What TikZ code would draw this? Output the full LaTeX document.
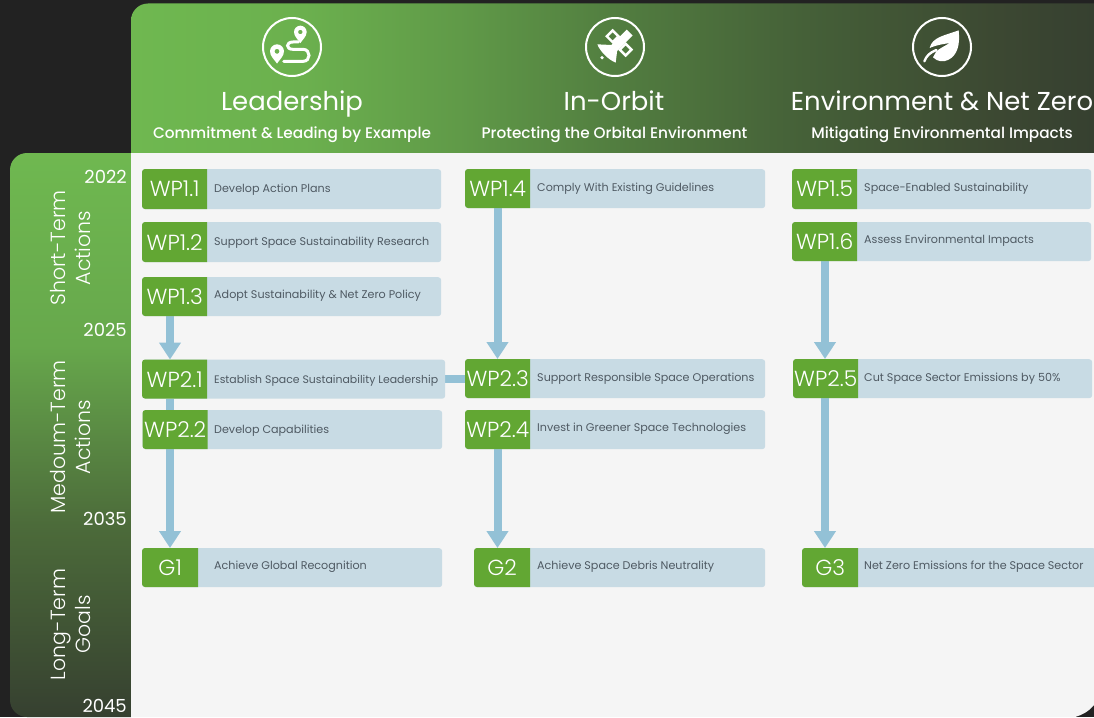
\documentclass[tikz,border=0pt]{standalone}
\usepackage{fontspec}
\setmainfont{Poppins}
\newfontfamily\poplight{Poppins Light}
\newfontfamily\popmed{Poppins Medium}
\usetikzlibrary{arrows.meta,calc}
\definecolor{pagebg}{HTML}{222222}
\definecolor{panelbg}{HTML}{F5F5F5}
\definecolor{tagg}{HTML}{62A733}
\definecolor{bodyb}{HTML}{C8DBE4}
\definecolor{arrowb}{HTML}{93C1D6}
\definecolor{labelc}{HTML}{4F5A63}
\definecolor{ga}{HTML}{6FB850}
\definecolor{gb}{HTML}{6BB04E}
\definecolor{gc}{HTML}{609A48}
\definecolor{gd}{HTML}{527E40}
\definecolor{ge}{HTML}{456038}
\definecolor{gf}{HTML}{3C4832}
\definecolor{gg}{HTML}{364030}
\definecolor{gh}{HTML}{4C6B3A}
\definecolor{gi}{HTML}{67A84C}
\pgfdeclarelayer{bg}\pgfdeclarelayer{conn}\pgfsetlayers{bg,conn,main}
\pgfdeclarehorizontalshading{hdrshade}{100bp}{color(0bp)=(ga);color(25bp)=(ga);color(34bp)=(gb);color(42bp)=(gc);color(50bp)=(gd);color(60bp)=(ge);color(70bp)=(gf);color(75bp)=(gg);color(100bp)=(gg)}
\pgfdeclareverticalshading{sideshade}{100bp}{color(0bp)=(gg);color(25bp)=(gg);color(42bp)=(gh);color(58bp)=(gi);color(75bp)=(ga);color(100bp)=(ga)}
\tikzset{
  x=1pt,y=-1pt,
  tagtext/.style={inner sep=0pt,text=white,font=\poplight\fontsize{21.8}{22}\selectfont},
  bodybox/.style={fill=bodyb,rounded corners=3pt,inner sep=0pt},
  labeltext/.style={anchor=base west,inner sep=0pt,text=labelc,font=\fontsize{11.15}{12}\selectfont},
  flow/.style={arrowb,line width=8pt,-{Triangle[width=21pt,length=17pt]}},
  link/.style={arrowb,line width=8pt},
  yeartext/.style={anchor=east,inner sep=0pt,text=white,font=\fontsize{18}{18}\selectfont},
  sidetext/.style={rotate=90,align=center,inner sep=0pt,text=white,font=\poplight\fontsize{20.5}{25}\selectfont},
  headtitle/.style={anchor=base,inner sep=0pt,text=white,font=\fontsize{25.9}{26}\selectfont},
  headsub/.style={anchor=base,inner sep=0pt,text=white,font=\popmed\fontsize{15.3}{16}\selectfont},
  iconring/.style={draw=white,line width=2pt,circle,inner sep=0pt,minimum size=58pt}
}
% name, x1, xtag, x2, ytop, ybottom, tag text, label, label position
\newcommand{\wpbox}[9]{%
  \node[bodybox,minimum width={(#4-#2)*1pt},minimum height={(#6-#5)*1pt},anchor=north west] (#1b) at (#2,#5) {};
  \fill[tagg] (#3,#5) [rounded corners=3pt] -- (#2,#5) -- (#2,#6) [sharp corners] -- (#3,#6) -- cycle;
  \node[tagtext,minimum width={(#3-#2)*1pt},minimum height={(#6-#5)*1pt},anchor=north west] (#1) at (#2,#5) {#7};
  \node[labeltext] (#1l) at (#9) {#8};
}
\newcommand{\iconpin}[3]{%
  \fill[white,even odd rule,shift={(#1,#2)},scale=#3]
    (0,1.75) .. controls (-.35,1.2) and (-1,.7) .. (-1,0)
    .. controls (-1,-.55) and (-.55,-1) .. (0,-1)
    .. controls (.55,-1) and (1,-.55) .. (1,0)
    .. controls (1,.7) and (.35,1.2) .. (0,1.75) -- cycle
    (0,0) circle[radius=.36];
}
\begin{document}
\begin{tikzpicture}
\useasboundingbox (0,0) rectangle (1094,717);
\begin{pgfonlayer}{bg}
\fill[pagebg] (0,0) rectangle (1094,717);
\shade[shading=hdrshade] (131,153) [rounded corners=17pt] -- (131,3.5) [sharp corners] -- (1094,3.5) -- (1094,153) -- cycle;
\shade[shading=sideshade] (131,153) [rounded corners=17pt] -- (10,153) -- (10,717) [sharp corners] -- (131,717) -- cycle;
\fill[panelbg] (131,153) -- (1094,153) -- (1094,705) .. controls (1088,712) and (1082,715) .. (1075,717) -- (131,717) -- cycle;
\end{pgfonlayer}

% Header icons
\node[iconring] (ring1) at (292,47) {};
\node[iconring] (ring2) at (615,47) {};
\node[iconring] (ring3) at (942,47) {};
\begin{scope}[shift={(257,12)},scale=1/3]
  \iconpin{130}{60}{19}
  \iconpin{60}{118}{21}
  \draw[white,line width=3pt,line cap=round] (124,90) -- (108,90) .. controls (86,90) and (86,112) .. (108,112) -- (138,112) .. controls (162,112) and (162,148) .. (138,148) -- (80,148);
\end{scope}
\begin{scope}[shift={(580,12)},scale=1/3]
  \fill[white] (140,53) -- (157.5,70.5) -- (111.5,116.5) -- (107,152) .. controls (85,143) and (60,118) .. (52,97) -- (94,99) -- cycle;
  \fill[white] (66,137) circle[radius=5.5];
  \draw[white,line width=2.4pt,line join=miter] (98,55.5) -- (115.5,73) -- (98,90.5) -- (80.5,73) -- cycle;
  \draw[white,line width=2.4pt,line join=miter] (137,95.5) -- (154.5,113) -- (137,130.5) -- (119.5,113) -- cycle;
\end{scope}
\begin{scope}[shift={(907,12)},scale=1/3]
  \fill[white] (68,108) .. controls (75,75) and (115,70) .. (155,55) .. controls (160,100) and (150,130) .. (125,143) .. controls (110,151) and (92,150) .. (78,136) -- (88,118) .. controls (100,108) and (112,103) .. (128,93) .. controls (112,96) and (90,98) .. (68,108) -- cycle;
  \draw[white,line width=2.4pt,line cap=round] (52,148) .. controls (58,132) and (68,122) .. (88,114);
\end{scope}

% Header text
\node[headtitle] (t1) at (292,110) {Leadership};
\node[headtitle] (t2) at (614,110) {In-Orbit};
\node[headtitle] (t3) at (942,110) {Environment \& Net Zero};
\node[headsub] (s1) at (292,138.5) {Commitment \& Leading by Example};
\node[headsub] (s2) at (614.5,138.5) {Protecting the Orbital Environment};
\node[headsub] (s3) at (942,138.5) {Mitigating Environmental Impacts};

% Side text
\node[yeartext] (y22) at (127,177) {2022};
\node[yeartext] (y25) at (127,330) {2025};
\node[yeartext] (y35) at (127,519) {2035};
\node[yeartext] (y45) at (127,706) {2045};
\node[sidetext] (p1) at (70.5,248) {Short-Term\\Actions};
\node[sidetext] (p2) at (70.5,437) {Medoum-Term\\Actions};
\node[sidetext] (p3) at (70.5,624.5) {Long-Term\\Goals};

% Boxes
\wpbox{wpa}{142}{207}{441}{169}{209}{WP1.1}{Develop Action Plans}{214,192.5}
\wpbox{wpb}{142}{207}{441}{222}{262}{WP1.2}{Support Space Sustainability Research}{214,245}
\wpbox{wpc}{142}{207}{441}{277}{316}{WP1.3}{Adopt Sustainability \& Net Zero Policy}{214,298.5}
\wpbox{wpd}{142}{207}{445}{359.5}{398.5}{WP2.1}{\fontsize{10.9}{12}\selectfont Establish Space Sustainability Leadership}{214,383}
\wpbox{wpe}{142.5}{207.5}{442}{410}{449}{WP2.2}{Develop Capabilities}{214,433.5}
\wpbox{ga}{142}{198}{442}{548}{587}{G1}{Achieve Global Recognition}{214,569}
\wpbox{wpf}{465}{530}{765}{169}{208}{WP1.4}{Comply With Existing Guidelines}{537,191.5}
\wpbox{wpg}{465}{530}{765}{359}{398}{WP2.3}{Support Responsible Space Operations}{537,381}
\wpbox{wph}{465}{530}{765}{410}{449}{WP2.4}{Invest in Greener Space Technologies}{537,431.5}
\wpbox{gb}{474}{530}{765}{548}{587}{G2}{Achieve Space Debris Neutrality}{537,569}
\wpbox{wpi}{792}{857}{1091}{169}{209}{WP1.5}{Space-Enabled Sustainability}{864,191}
\wpbox{wpj}{792}{857}{1091}{222}{261}{WP1.6}{Assess Environmental Impacts}{864,243}
\wpbox{wpk}{793}{858}{1092}{359}{398}{WP2.5}{Cut Space Sector Emissions by 50\%}{864,381}
\wpbox{gc}{802}{858}{1096}{548}{587}{G3}{Net Zero Emissions for the Space Sector}{864,569}

% Connectors
\begin{pgfonlayer}{conn}
\coordinate (colA) at (170,0);
\coordinate (colB) at (497.5,0);
\coordinate (colC) at (825,0);
\draw[flow] (colA |- wpc.south) -- (colA |- wpd.north);
\draw[flow] (colA |- wpd.south) -- (colA |- ga.north);
\draw[flow] (colB |- wpf.south) -- (colB |- wpg.north);
\draw[flow] (colB |- wph.south) -- (colB |- gb.north);
\draw[flow] (colC |- wpj.south) -- (colC |- wpk.north);
\draw[flow] (colC |- wpk.south) -- (colC |- gc.north);
\draw[link] (wpdb.east) -- (wpg.west |- wpdb.east);
\end{pgfonlayer}
\end{tikzpicture}
\end{document}
